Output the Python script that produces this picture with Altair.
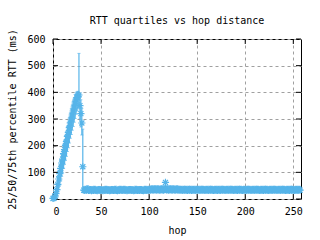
import altair as alt
import pandas as pd

# ---- data ----
ramp_med = [2, 3, 8, 20, 35, 55, 75, 95, 115, 135, 150, 170, 185, 200, 215, 235,
            250, 268, 285, 300, 315, 330, 345, 360, 372, 380, 385, 390, 350, 320, 285, 121]
ramp_q25 = [0, 0, 1, 5, 12, 22, 35, 52, 68, 85, 98, 115, 130, 145, 160, 178,
            192, 210, 228, 242, 258, 272, 288, 302, 318, 330, 338, 345, 300, 270, 240, 25]
ramp_q75 = [6, 10, 20, 38, 58, 85, 108, 128, 148, 168, 185, 205, 220, 238, 252, 272,
            288, 305, 322, 338, 352, 366, 378, 392, 398, 402, 404, 546, 392, 372, 340, 262]

flat_med = [
    33,32,34,33,35,32,33,34,31,33,32,34,33,32,31,33,34,32,33,32,
    31,33,32,34,33,32,33,31,32,34,33,32,33,34,32,31,33,32,34,33,
    32,33,34,32,33,31,32,33,34,33,32,33,31,32,34,33,32,33,32,34,
    33,32,31,33,34,32,33,32,34,33,34,35,33,34,35,34,33,35,34,33,
    34,35,34,33,35,62,34,35,33,34,35,34,33,35,34,33,34,35,33,34,
    33,34,33,32,34,33,34,33,32,34,33,34,32,33,34,33,32,34,33,34,
    33,32,34,33,34,33,32,33,34,33,32,34,33,34,33,32,33,34,33,32,
    34,33,32,34,33,34,33,32,33,34,33,32,34,33,34,33,32,33,34,33,
    32,34,33,34,33,32,33,34,33,32,34,33,34,33,32,33,34,33,32,34,
    33,34,33,32,33,34,33,32,34,33,34,33,32,33,34,33,32,34,33,34,
    33,32,33,34,33,32,34,33,34,33,32,33,34,33,32,34,33,34,33,32,
    33,34,33,32,34,33]
flat_q25 = [
    27,26,28,27,29,26,27,28,25,27,26,28,27,26,25,27,28,26,27,26,
    25,27,26,28,27,26,27,25,26,28,27,26,27,28,26,25,27,26,28,27,
    26,27,28,26,27,25,26,27,28,27,26,27,25,26,28,27,26,27,26,28,
    27,26,25,27,28,26,27,26,28,27,28,29,27,28,29,28,27,29,28,27,
    28,29,28,27,29,42,28,29,27,28,29,28,27,29,28,27,28,29,27,28,
    27,28,27,26,28,27,28,27,26,28,27,28,26,27,28,27,26,28,27,28,
    27,26,28,27,28,27,26,27,28,27,26,28,27,28,27,26,27,28,27,26,
    28,27,26,28,27,28,27,26,27,28,27,26,28,27,28,27,26,27,28,27,
    26,28,27,28,27,26,27,28,27,26,28,27,28,27,26,27,28,27,26,28,
    27,28,27,26,27,28,27,26,28,27,28,27,26,27,28,27,26,28,27,28,
    27,26,27,28,27,26,28,27,28,27,26,27,28,27,26,28,27,28,27,26,
    27,28,27,26,28,27]
flat_q75 = [
    46,44,48,45,50,44,46,47,43,46,44,48,46,44,43,46,47,44,46,45,
    43,46,45,48,46,44,46,43,45,47,46,44,46,48,44,43,46,45,48,46,
    44,46,48,45,46,43,45,46,47,46,44,46,43,45,48,46,44,46,45,47,
    46,44,43,46,48,45,46,44,48,46,48,50,46,48,50,48,46,50,48,46,
    48,50,48,46,50,66,48,50,46,48,50,48,46,50,48,46,48,50,46,48,
    46,48,46,45,48,46,48,46,44,48,46,48,45,46,48,46,44,48,46,48,
    46,44,48,46,48,46,45,46,48,46,44,48,46,48,46,44,46,48,46,45,
    48,46,44,48,46,48,46,45,46,48,46,44,48,46,48,46,45,46,48,46,
    45,48,46,48,46,44,46,48,46,45,48,46,48,46,44,46,48,46,45,48,
    46,48,46,44,46,48,46,45,48,46,48,46,44,46,48,46,45,48,46,48,
    46,44,46,48,46,45,48,46,48,46,44,46,48,46,45,48,46,48,46,44,
    46,48,46,45,48,46]

x_ticks = [0, 50, 100, 150, 200, 250]
y_ticks = [0, 100, 200, 300, 400, 500, 600]

med = ramp_med + flat_med
q25 = ramp_q25 + flat_q25
q75 = ramp_q75 + flat_q75
assert len(med) == len(q25) == len(q75), (len(med), len(q25), len(q75))
hops = list(range(len(med)))

df = pd.DataFrame({"hop": hops, "med": med, "q25": q25, "q75": q75})
xt = pd.DataFrame({"v": x_ticks})
yt = pd.DataFrame({"v": y_ticks})

BLUE = "#56B4E9"
FONT = "DejaVu Sans Mono"
W, H = 248, 160

xs = alt.Scale(domain=[0, 258], nice=False, zero=False)
ys = alt.Scale(domain=[0, 600], nice=False)

xaxis = alt.Axis(values=x_ticks, title="hop", grid=True, domain=False, ticks=False,
                 labelPadding=7, titleY=34, titleBaseline="alphabetic")
yaxis = alt.Axis(values=y_ticks, title="25/50/75th percentile RTT (ms)", grid=True,
                 domain=False, ticks=False, labelPadding=8,
                 titleX=-38, titleY=80, titleBaseline="alphabetic", titleAngle=-90)

def X(f):
    return alt.X(f, type="quantitative", scale=xs, axis=xaxis)

def Y(f):
    return alt.Y(f, type="quantitative", scale=ys, axis=yaxis)

base = alt.Chart(df)

bars = base.mark_rule(color=BLUE, strokeWidth=1.2).encode(
    x=X("hop"), y=Y("q25"), y2="q75")
cap_lo = base.mark_tick(color=BLUE, orient="horizontal", size=3, thickness=1).encode(
    x=X("hop"), y=Y("q25"))
cap_hi = base.mark_tick(color=BLUE, orient="horizontal", size=3, thickness=1).encode(
    x=X("hop"), y=Y("q75"))
star = "M-1,0L1,0M0,-1L0,1M-0.7,-0.7L0.7,0.7M-0.7,0.7L0.7,-0.7"
pts = base.mark_point(shape=star, filled=False, color=BLUE, size=52,
                      strokeWidth=1.2, opacity=1).encode(
    x=X("hop"), y=Y("med"))

tk = dict(color="black", strokeWidth=1)
yl = alt.Chart(yt).mark_rule(**tk).encode(y=Y("v"), x=alt.value(0), x2=alt.value(5))
yr = alt.Chart(yt).mark_rule(**tk).encode(y=Y("v"), x=alt.value(W - 5), x2=alt.value(W))
xb = alt.Chart(xt).mark_rule(**tk).encode(x=X("v"), y=alt.value(H), y2=alt.value(H - 5))
xtp = alt.Chart(xt).mark_rule(**tk).encode(x=X("v"), y=alt.value(0), y2=alt.value(5))

chart = alt.layer(yl, yr, xb, xtp, bars, cap_lo, cap_hi, pts).properties(
    width=W, height=H,
    autosize=alt.AutoSizeParams(type="none"),
    padding={"left": 53, "top": 39, "right": 19, "bottom": 41},
    title=alt.TitleParams("RTT quartiles vs hop distance", font=FONT, fontSize=10,
                          fontWeight="normal", anchor="middle", frame="group",
                          baseline="alphabetic", offset=5, dy=10, color="black"),
    background="white",
).configure_view(stroke="black", strokeWidth=1).configure_axis(
    labelFont=FONT, labelFontSize=10, labelColor="black",
    titleFont=FONT, titleFontSize=10, titleFontWeight="normal", titleColor="black",
    gridColor="#a0a0a0", gridDash=[3, 3], gridWidth=1, gridOpacity=1,
)

chart.save("out.html", embed_options={"renderer": "svg", "actions": False})
